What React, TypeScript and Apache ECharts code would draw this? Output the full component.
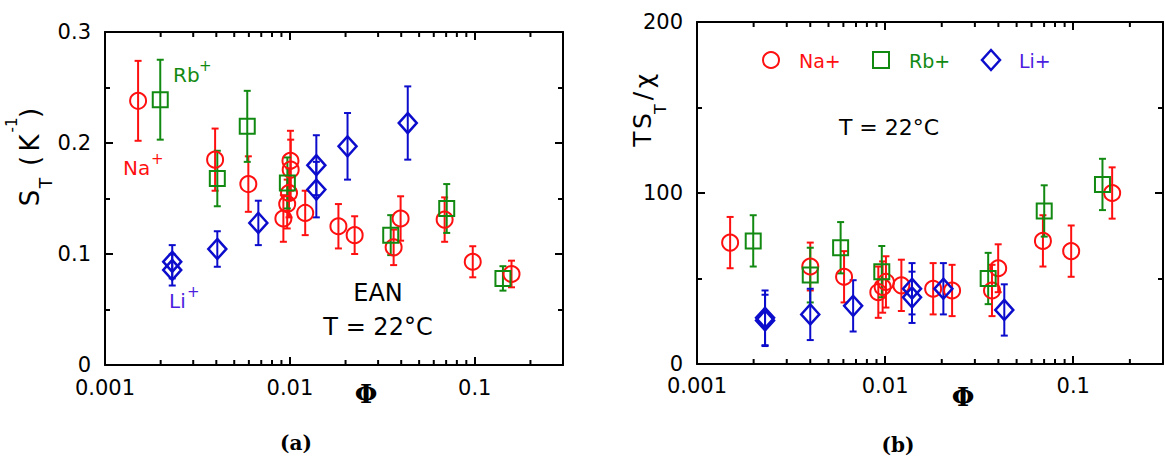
import React, { useEffect, useRef } from "react";
import * as echarts from "echarts";

// ---------- data: panel (a) S_T vs Phi ----------
const naA_x = [0.00151, 0.00394, 0.00596, 0.00922, 0.00967, 0.00989, 0.0101, 0.01007, 0.0121, 0.0183, 0.0224, 0.0364, 0.0397, 0.0687, 0.0975, 0.158];
const naA_y = [0.238, 0.185, 0.163, 0.132, 0.145, 0.155, 0.176, 0.184, 0.137, 0.125, 0.117, 0.106, 0.132, 0.131, 0.093, 0.082];
const naA_e = [0.036, 0.028, 0.025, 0.021, 0.022, 0.022, 0.027, 0.027, 0.02, 0.02, 0.017, 0.016, 0.02, 0.02, 0.014, 0.012];

const rbA_x = [0.00199, 0.00405, 0.00588, 0.00969, 0.0351, 0.0705, 0.142];
const rbA_y = [0.239, 0.168, 0.215, 0.164, 0.117, 0.141, 0.078];
const rbA_e = [0.036, 0.025, 0.032, 0.023, 0.018, 0.022, 0.011];

const liA_x = [0.00231, 0.00231, 0.00405, 0.00675, 0.0139, 0.0139, 0.0205, 0.0434];
const liA_y = [0.093, 0.0856, 0.1045, 0.128, 0.18, 0.158, 0.197, 0.218];
const liA_e = [0.015, 0.014, 0.016, 0.02, 0.027, 0.025, 0.03, 0.033];

// ---------- data: panel (b) T S_T / chi vs Phi ----------
const naB_x = [0.0015, 0.004, 0.00605, 0.0092, 0.0097, 0.0101, 0.0122, 0.018, 0.0227, 0.037, 0.0399, 0.069, 0.0975, 0.161];
const naB_y = [71, 57, 51, 42, 45, 48, 46, 44, 43, 43, 56, 72, 66, 100];
const naB_e = [15, 14, 15, 15, 15, 15, 15, 15, 15, 15, 14, 15, 15, 15];

const rbB_x = [0.00199, 0.004, 0.0058, 0.0096, 0.0353, 0.0701, 0.143];
const rbB_y = [72, 52, 68, 54, 50, 89.5, 105];
const rbB_e = [15, 16, 15, 15, 15, 15, 15];

const liB_x = [0.0023, 0.0023, 0.004, 0.00676, 0.0139, 0.0139, 0.0204, 0.043];
const liB_y = [25.5, 27, 29, 34, 44, 39, 44, 31.6];
const liB_e = [15, 16, 15, 15, 15, 15, 15, 15];

// tick values
const xMajorLabels = [0.001, 0.01, 0.1];
const xMinorTicks = [0.002, 0.003, 0.004, 0.005, 0.006, 0.007, 0.008, 0.009, 0.02, 0.03, 0.04, 0.05, 0.06, 0.07, 0.08, 0.09, 0.2];
const yTicksA = [0, 0.1, 0.2, 0.3];
const yTicksB = [0, 100, 200];

const RED = "#ff1010";
const GREEN = "#128a12";
const BLUE = "#0c0ccc";
const VIOLET = "#4b1ee0";
const FONT = '"DejaVu Sans", sans-serif';
const SERIF = '"DejaVu Serif", serif';

const pts = (xs: number[], ys: number[]) => xs.map((x, i) => [x, ys[i]]);
const errs = (xs: number[], ys: number[], es: number[]) => xs.map((x, i) => [x, ys[i] - es[i], ys[i] + es[i]]);

function errSeries(xi: number, yi: number, data: number[][], color: string) {
  return {
    type: "custom",
    xAxisIndex: xi,
    yAxisIndex: yi,
    data,
    encode: { x: 0, y: [1, 2] },
    z: 2,
    silent: true,
    renderItem: (params: any, api: any) => {
      const x = api.value(0);
      const p1 = api.coord([x, api.value(1)]);
      const p2 = api.coord([x, api.value(2)]);
      const w = 3.5;
      const st = { stroke: color, lineWidth: 2 };
      return {
        type: "group",
        children: [
          { type: "line", shape: { x1: p1[0], y1: p1[1], x2: p2[0], y2: p2[1] }, style: st },
          { type: "line", shape: { x1: p1[0] - w, y1: p1[1], x2: p1[0] + w, y2: p1[1] }, style: st },
          { type: "line", shape: { x1: p2[0] - w, y1: p2[1], x2: p2[0] + w, y2: p2[1] }, style: st },
        ],
      };
    },
  };
}

function scatterSeries(name: string, xi: number, yi: number, data: number[][], symbol: string, size: any, color: string, bw = 2) {
  return {
    name,
    type: "scatter",
    xAxisIndex: xi,
    yAxisIndex: yi,
    data,
    symbol,
    symbolSize: size,
    z: 3,
    itemStyle: { color: "rgba(0,0,0,0)", borderColor: color, borderWidth: bw, opacity: 1 },
  };
}

function minorTickSeries(xi: number, yi: number) {
  return {
    type: "custom",
    xAxisIndex: xi,
    yAxisIndex: yi,
    data: xMinorTicks.map((v) => [v, 0]),
    encode: { x: 0, y: 1 },
    z: 5,
    silent: true,
    renderItem: (params: any, api: any) => {
      const x = api.coord([api.value(0), 0])[0];
      const cs = params.coordSys;
      const st = { stroke: "#000", lineWidth: 2 };
      const b = cs.y + cs.height;
      return {
        type: "group",
        children: [
          { type: "line", shape: { x1: x, y1: b, x2: x, y2: b - 5 }, style: st },
          { type: "line", shape: { x1: x, y1: cs.y, x2: x, y2: cs.y + 5 }, style: st },
        ],
      };
    },
  };
}

const fmtX = (v: number) => {
  const r = Number(v.toPrecision(3));
  return xMajorLabels.some((m) => Math.abs(m - r) / m < 1e-6) ? String(r) : "";
};

function xAxes(grid: number, margin: number) {
  const common = {
    gridIndex: grid,
    type: "log",
    logBase: 10,
    min: 0.001,
    max: 0.3,
    splitLine: { show: false },
    axisLine: { show: true, onZero: false, lineStyle: { color: "#000", width: 2 } },
    axisTick: { show: true, inside: true, length: 8, lineStyle: { color: "#000", width: 2 } },
  };
  return [
    {
      ...common,
      position: "bottom",
      axisLabel: { show: true, showMaxLabel: false, margin, lineHeight: 18, color: "#000", fontSize: 21, fontFamily: FONT, formatter: fmtX },
    },
    { ...common, position: "top", axisLabel: { show: false } },
  ];
}

function yAxes(grid: number, min: number, max: number, interval: number, padB: number, fmt: (v: number) => string) {
  const common = {
    gridIndex: grid,
    type: "value",
    min,
    max,
    interval,
    splitLine: { show: false },
    minorSplitLine: { show: false },
    axisLine: { show: true, onZero: false, lineStyle: { color: "#000", width: 2 } },
    axisTick: { show: true, inside: true, length: 8, lineStyle: { color: "#000", width: 2 } },
    minorTick: { show: true, splitNumber: 2, length: 5, lineStyle: { color: "#000", width: 2 } },
  };
  return [
    {
      ...common,
      position: "left",
      axisLabel: { show: true, margin: 14, lineHeight: 14, color: "#000", fontSize: 21, fontFamily: FONT, padding: [0, 0, padB, 0], formatter: fmt },
    },
    { ...common, position: "right", axisLabel: { show: false } },
  ];
}

const t = (x: number, y: number, text: string, size: number, color: string, align = "center", weight = "normal", family = FONT) => ({
  type: "text",
  x,
  y,
  silent: true,
  style: {
    text,
    fill: color,
    font: `${weight} ${size}px ${family}`,
    textAlign: align,
    textVerticalAlign: "middle",
    align,
    verticalAlign: "middle",
  },
});

export default function App() {
  const ref = useRef<HTMLDivElement>(null);
  useEffect(() => {
    if (!ref.current) return;
    const chart = echarts.init(ref.current, null, { renderer: "svg" });
    const option: any = {
      animation: false,
      backgroundColor: "#fff",
      grid: [
        { left: 105, top: 32, width: 458, height: 333 },
        { left: 697, top: 22, width: 466, height: 342 },
      ],
      xAxis: [...xAxes(0, 14), ...xAxes(1, 13)],
      yAxis: [
        ...yAxes(0, yTicksA[0], yTicksA[yTicksA.length - 1], 0.1, 6, (v) => String(Number(v.toFixed(2)))),
        ...yAxes(1, yTicksB[0], yTicksB[yTicksB.length - 1], 100, 14, (v) => String(Math.round(v))),
      ],
      series: [
        minorTickSeries(0, 0),
        minorTickSeries(2, 2),
        errSeries(0, 0, errs(naA_x, naA_y, naA_e), RED),
        errSeries(0, 0, errs(rbA_x, rbA_y, rbA_e), GREEN),
        errSeries(0, 0, errs(liA_x, liA_y, liA_e), BLUE),
        scatterSeries("Na+", 0, 0, pts(naA_x, naA_y), "circle", 16, RED),
        scatterSeries("Rb+", 0, 0, pts(rbA_x, rbA_y), "rect", 15, GREEN),
        scatterSeries("Li+", 0, 0, pts(liA_x, liA_y), "diamond", [18, 20], BLUE, 2.5),
        errSeries(2, 2, errs(naB_x, naB_y, naB_e), RED),
        errSeries(2, 2, errs(rbB_x, rbB_y, rbB_e), GREEN),
        errSeries(2, 2, errs(liB_x, liB_y, liB_e), BLUE),
        scatterSeries("Na+", 2, 2, pts(naB_x, naB_y), "circle", 16, RED),
        scatterSeries("Rb+", 2, 2, pts(rbB_x, rbB_y), "rect", 15, GREEN),
        scatterSeries("Li+", 2, 2, pts(liB_x, liB_y), "diamond", [18, 20], BLUE, 2.5),
      ],
      graphic: [
        // panel (a) annotations
        t(173, 75, "Rb", 20, GREEN, "left"),
        t(199, 66, "+", 15, GREEN, "left"),
        t(123, 168, "Na", 20, RED, "left"),
        t(151, 159, "+", 15, RED, "left"),
        t(169, 301, "Li", 20, VIOLET, "left"),
        t(187, 292, "+", 15, VIOLET, "left"),
        t(378, 293, "EAN", 24, "#000"),
        t(378, 327, "T = 22°C", 24, "#000"),
        // y axis title (a)
        {
          type: "group",
          x: 30,
          y: 210,
          rotation: Math.PI / 2,
          children: [
            t(12, 0, "S", 26, "#000"),
            t(27, 16, "T", 17, "#000"),
            t(49, 0, "(", 26, "#000"),
            t(67, 0, "K", 26, "#000"),
            t(85, -18, "-1", 15, "#000"),
            t(97, 0, ")", 26, "#000"),
          ],
        },
        // x axis titles
        t(366, 394, "Φ", 26, "#000", "center", "bold", SERIF),
        t(963, 397, "Φ", 26, "#000", "center", "bold", SERIF),
        // panel labels
        t(296, 443, "(a)", 20, "#000", "center", "bold", SERIF),
        t(898, 445, "(b)", 20, "#000", "center", "bold", SERIF),
        // panel (b) y title
        {
          type: "group",
          x: 642,
          y: 150,
          rotation: Math.PI / 2,
          children: [
            t(11, 0, "T", 25, "#000"),
            t(29, 0, "S", 25, "#000"),
            t(41, 18, "T", 16, "#000"),
            t(54, 0, "/", 25, "#000"),
            t(69, 2, "χ", 25, "#000"),
          ],
        },
        // panel (b) legend
        { type: "circle", shape: { cx: 771, cy: 60, r: 8 }, style: { fill: "none", stroke: RED, lineWidth: 2 }, silent: true },
        t(799, 61, "Na+", 19, RED, "left"),
        { type: "rect", shape: { x: 873, y: 52, width: 16, height: 16 }, style: { fill: "none", stroke: GREEN, lineWidth: 2 }, silent: true },
        t(909, 61, "Rb+", 19, GREEN, "left"),
        {
          type: "polygon",
          shape: { points: [[991, 50], [1000, 60], [991, 70], [982, 60]] },
          style: { fill: "none", stroke: BLUE, lineWidth: 2.5 },
          silent: true,
        },
        t(1019, 61, "Li+", 19, VIOLET, "left"),
        t(889, 127, "T = 22°C", 22, "#000"),
      ],
    };
    chart.setOption(option);
    return () => chart.dispose();
  }, []);
  return <div ref={ref} style={{ position: "fixed", left: 0, top: 0, width: 1165, height: 464, background: "#fff" }} />;
}
